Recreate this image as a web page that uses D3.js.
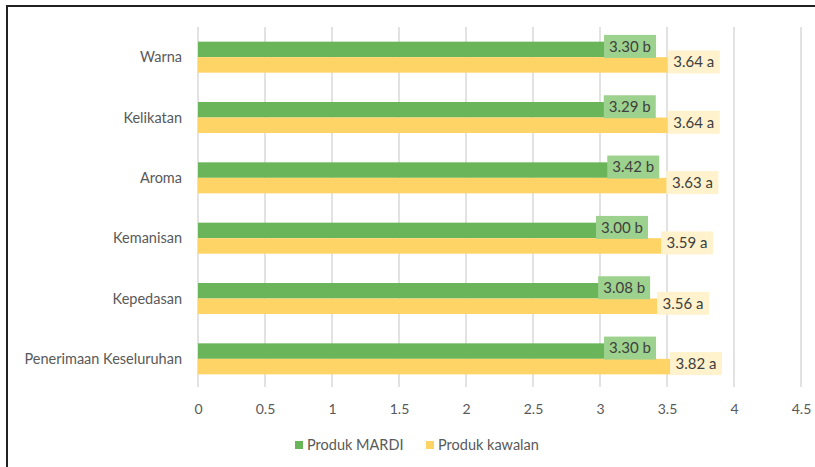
<!DOCTYPE html>
<html>
<head>
<meta charset="utf-8">
<script src="https://cdn.jsdelivr.net/npm/d3@7"></script>
<style>
  html, body { margin: 0; padding: 0; background: #fff; }
  svg { display: block; }
  text { font-family: Lato, "Open Sans", sans-serif; }
</style>
</head>
<body>
<script>
const categories = ["Warna", "Kelikatan", "Aroma", "Kemanisan", "Kepedasan", "Penerimaan Keseluruhan"];
const mardiValues = [3.30, 3.29, 3.42, 3.00, 3.08, 3.30];
const kawalanValues = [3.64, 3.64, 3.63, 3.59, 3.56, 3.82];
const mardiLetters = ["b", "b", "b", "b", "b", "b"];
const kawalanLetters = ["a", "a", "a", "a", "a", "a"];
const seriesNames = ["Produk MARDI", "Produk kawalan"];
const xTicks = [0, 0.5, 1, 1.5, 2, 2.5, 3, 3.5, 4, 4.5];

const W = 815, H = 467;
const svg = d3.select("body").append("svg").attr("width", W).attr("height", H);

// frame
svg.append("rect").attr("x", 7).attr("y", 6).attr("width", 820).attr("height", 480)
  .attr("fill", "none").attr("stroke", "#222").attr("stroke-width", 2);

const x = d3.scaleLinear().domain([0, 4.5]).range([198, 801]);
const y = d3.scaleBand().domain(categories).range([27, 389]).paddingInner(0.486).paddingOuter(0.243);
const sub = d3.scaleBand().domain([0, 1]).range([0, y.bandwidth()]);

const green = "#6ab55a", yellow = "#ffd467";
const greenBox = "#9dd28e", yellowBox = "#fff2cc";

// gridlines + ticks
svg.append("g").selectAll("line").data(xTicks).join("line")
  .attr("x1", d => x(d)).attr("x2", d => x(d))
  .attr("y1", 27).attr("y2", 387)
  .attr("stroke", "#d9d9d9").attr("stroke-width", 1.5);

// x axis labels
const axis = d3.axisBottom(x).tickValues(xTicks).tickSize(0).tickPadding(0).tickFormat(d3.format("~g"));
const ag = svg.append("g").attr("transform", "translate(0,410)").call(axis);
ag.select(".domain").remove();
ag.selectAll("text").attr("fill", "#595959").attr("font-size", 14).attr("dy", "0.32em").attr("y", 0);

// category labels
svg.append("g").selectAll("text").data(categories).join("text")
  .attr("x", 182).attr("y", d => y(d) + y.bandwidth() / 2)
  .attr("dy", "0.35em").attr("text-anchor", "end")
  .attr("fill", "#595959").attr("font-size", 14.5).text(d => d);

const rows = categories.map((c, i) => ({c, m: mardiValues[i], k: kawalanValues[i], ml: mardiLetters[i], kl: kawalanLetters[i]}));

// bars
const g = svg.append("g");
g.selectAll(".bm").data(rows).join("rect")
  .attr("x", x(0)).attr("y", d => y(d.c) + sub(0))
  .attr("width", d => x(d.m) - x(0)).attr("height", sub.bandwidth())
  .attr("fill", green);
g.selectAll(".bk").data(rows).join("rect")
  .attr("x", x(0)).attr("y", d => y(d.c) + sub(1))
  .attr("width", d => x(d.k) - x(0)).attr("height", sub.bandwidth())
  .attr("fill", yellow);

// data labels (boxes near the bar ends, as in the original)
function labels(key, letterKey, idx, fill, leftOf) {
  const lg = svg.append("g").selectAll("g").data(rows).join("g")
    .attr("transform", d => `translate(${leftOf(d[key])},${y(d.c) + sub(idx) + sub.bandwidth() / 2 - 3})`);
  lg.append("rect").attr("x", 0).attr("y", -11.5).attr("width", 52).attr("height", 23).attr("fill", fill);
  lg.append("text").attr("x", 26).attr("dy", "0.36em").attr("text-anchor", "middle")
    .attr("fill", "#404040").attr("font-size", 15)
    .text(d => d[key].toFixed(2) + " " + d[letterKey]);
}
labels("m", "ml", 0, greenBox, v => x(3) - 4 + (x(v) - x(3)) * 0.2);
labels("k", "kl", 1, yellowBox, v => Math.min(x(v) - 18, x(3.5) + 3));

// legend
const leg = svg.append("g").attr("transform", "translate(0,445)");
const legItems = [{n: seriesNames[0], c: green, x: 295}, {n: seriesNames[1], c: yellow, x: 426}];
const li = leg.selectAll("g").data(legItems).join("g").attr("transform", d => `translate(${d.x},0)`);
li.append("rect").attr("x", 0).attr("y", -4).attr("width", 8).attr("height", 8).attr("fill", d => d.c);
li.append("text").attr("x", 12).attr("dy", "0.35em").attr("fill", "#595959").attr("font-size", 14.5).text(d => d.n);
</script>
</body>
</html>
